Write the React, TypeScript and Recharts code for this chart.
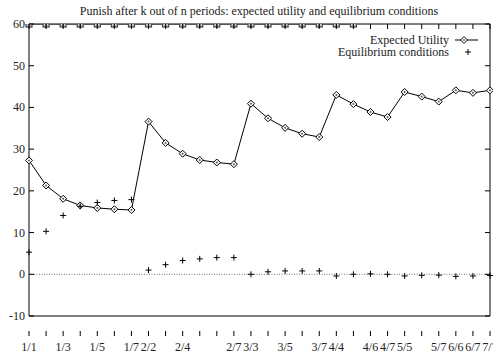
import { LineChart, Line, XAxis, YAxis, ReferenceLine } from "recharts";

const periods = [
  "1/1", "1/2", "1/3", "1/4", "1/5", "1/6", "1/7",
  "2/2", "2/3", "2/4", "2/5", "2/6", "2/7",
  "3/3", "3/4", "3/5", "3/6", "3/7",
  "4/4", "4/5", "4/6", "4/7",
  "5/5", "5/6", "5/7",
  "6/6", "6/7",
  "7/7",
];
const labelled = ["1/1", "1/3", "1/5", "1/7", "2/2", "2/4", "2/7", "3/3", "3/5", "3/7", "4/4", "4/6", "4/7", "5/5", "5/7", "6/6", "6/7", "7/7"];
const expectedUtility = [27.3, 21.3, 18.1, 16.5, 15.9, 15.6, 15.4, 36.6, 31.5, 28.9, 27.4, 26.8, 26.4, 40.9, 37.4, 35.1, 33.7, 32.9, 43.0, 40.8, 38.9, 37.7, 43.7, 42.6, 41.4, 44.1, 43.5, 44.1];
const equilibrium = [5.3, 10.3, 14.1, 16.3, 17.2, 17.7, 17.9, 1.0, 2.3, 3.3, 3.7, 4.0, 4.0, 0, 0.6, 0.8, 0.8, 0.8, -0.4, 0, 0.1, 0, -0.4, -0.25, -0.2, -0.5, -0.4, -0.3];
const ceiling = [60, 60, 60, 60, 60, 60, 60, 60, 60, 60, 60, 60, 60, 60, 60, 60, 60, 60, 60, 60, null, null, null, null, null, null, null, null];
const yTicks = [-10, 0, 10, 20, 30, 40, 50, 60];

const data = periods.map((p, i) => ({
  period: p,
  eu: expectedUtility[i],
  eq: equilibrium[i],
  top: ceiling[i],
}));

const font = "'Liberation Serif', 'Times New Roman', 'DejaVu Serif', serif";
const txt = { fontFamily: font, fontSize: 12, fill: "#222" };
const TOP = 24;
const BOTTOM = 336;
const LEFT = 29;
const RIGHT = 490;

function Diamond(props: any) {
  const { cx, cy } = props;
  if (cx == null || cy == null) return null;
  return (
    <g>
      <polygon points={`${cx},${cy - 3.5} ${cx + 3.5},${cy} ${cx},${cy + 3.5} ${cx - 3.5},${cy}`} fill="#fff" stroke="#000" strokeWidth={1} />
      <circle cx={cx} cy={cy} r={1} fill="#555" />
    </g>
  );
}

function Plus(props: any) {
  const { cx, cy } = props;
  if (cx == null || cy == null) return null;
  return (
    <g stroke="#000" strokeWidth={1}>
      <line x1={cx - 3} y1={cy} x2={cx + 3} y2={cy} />
      <line x1={cx} y1={cy - 3} x2={cx} y2={cy + 3} />
    </g>
  );
}

function Square(props: any) {
  const { cx, cy } = props;
  if (cx == null || cy == null) return null;
  return (
    <g>
      <rect x={cx - 3} y={cy - 3} width={6} height={6} fill="#ccc" stroke="#444" strokeWidth={1.2} />
      <line x1={cx} y1={cy} x2={cx} y2={cy + 4} stroke="#444" strokeWidth={1.2} />
    </g>
  );
}

function XTick(props: any) {
  const { x, payload } = props;
  const show = labelled.includes(payload.value);
  return (
    <g>
      <line x1={x} y1={BOTTOM} x2={x} y2={BOTTOM - 5} stroke="#000" />
      <line x1={x} y1={TOP} x2={x} y2={TOP + 5} stroke="#000" />
      {show && (
        <text x={x} y={BOTTOM + 15} textAnchor="middle" style={txt}>
          {payload.value}
        </text>
      )}
    </g>
  );
}

function YTick(props: any) {
  const { y, payload } = props;
  return (
    <g>
      <line x1={LEFT} y1={y} x2={LEFT + 5} y2={y} stroke="#000" />
      <line x1={RIGHT - 5} y1={y} x2={RIGHT} y2={y} stroke="#000" />
      <text x={LEFT - 4} y={y + 4} textAnchor="end" style={txt}>
        {payload.value}
      </text>
    </g>
  );
}

export default function App() {
  return (
    <div style={{ position: "absolute", left: 0, top: 0, background: "#fff" }}>
      <LineChart width={493} height={356} data={data} margin={{ top: TOP, right: 493 - RIGHT, bottom: 20, left: 0 }}>
        <text x={259} y={15} textAnchor="middle" style={txt}>
          Punish after k out of n periods: expected utility and equilibrium conditions
        </text>
        <XAxis
          dataKey="period"
          interval={0}
          padding={{ left: 0, right: 0 }}
          height={20}
          tickSize={0}
          tickMargin={0}
          tick={<XTick />}
          tickLine={false}
          axisLine={{ stroke: "#000" }}
        />
        <YAxis
          domain={[-10, 60]}
          ticks={yTicks}
          width={LEFT}
          tickSize={0}
          tickMargin={0}
          tick={<YTick />}
          tickLine={false}
          axisLine={{ stroke: "#000" }}
          allowDataOverflow
        />
        <ReferenceLine y={0} stroke="#777" strokeDasharray="1 1.5" />
        <ReferenceLine y={60} stroke="#000" />
        <ReferenceLine x="7/7" stroke="#000" />
        <Line dataKey="top" stroke="#555" strokeWidth={2} dot={<Square />} isAnimationActive={false} connectNulls={false} />
        <Line dataKey="eu" stroke="#000" strokeWidth={1} dot={<Diamond />} isAnimationActive={false} />
        <Line dataKey="eq" stroke="none" dot={<Plus />} isAnimationActive={false} />
        <text x={449} y={44} textAnchor="end" style={txt}>Expected Utility</text>
        <text x={449} y={56} textAnchor="end" style={txt}>Equilibrium conditions</text>
        <line x1={455} y1={40} x2={478} y2={40} stroke="#000" />
        <Diamond cx={464} cy={40} />
        <Plus cx={468} cy={52} />
      </LineChart>
    </div>
  );
}
